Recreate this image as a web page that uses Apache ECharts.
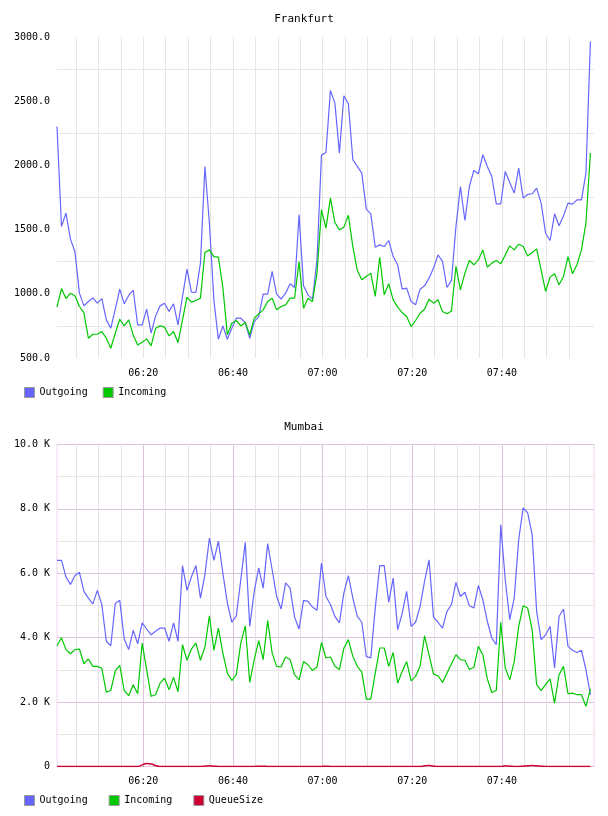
<!DOCTYPE html>
<html>
<head>
<meta charset="utf-8">
<title>Frankfurt / Mumbai</title>
<script src="https://cdn.jsdelivr.net/npm/echarts@6.0.0/dist/echarts.min.js"></script>
<style>
  html, body { margin: 0; padding: 0; background: #fff; }
  #chart { width: 608px; height: 816px; }
</style>
</head>
<body>
<div id="chart"></div>
<script>
// samples are one minute apart, first one at 06:00:45 (minutes since midnight)
const firstSample = 360.75
const sampleStep = 1
const xMin = 360.75
const xMax = 480.55
const timeLabels = ['06:20', '06:40', '07:00', '07:20', '07:40']

// Frankfurt
const fraOutgoing = [
  2303, 1524, 1628, 1426, 1329, 1005, 906, 940, 968, 927,
  963, 797, 732, 880, 1036, 922, 987, 1028, 758, 758,
  880, 693, 828, 906, 927, 862, 922, 758, 979, 1192,
  1013, 1010, 1239, 1992, 1550, 950, 646, 750, 646, 732,
  810, 810, 776, 654, 784, 823, 997, 997, 1174, 997,
  958, 1005, 1078, 1049, 1615, 1062, 992, 958, 1264, 2080,
  2101, 2584, 2485, 2096, 2542, 2480, 2044, 1992, 1940, 1659,
  1623, 1363, 1381, 1368, 1415, 1290, 1226, 1036, 1044, 940,
  914, 1036, 1062, 1122, 1200, 1303, 1252, 1049, 1104, 1524,
  1836, 1571, 1836, 1960, 1935, 2083, 1992, 1914, 1701, 1701,
  1953, 1867, 1784, 1979, 1745, 1774, 1779, 1823, 1706, 1472,
  1415, 1623, 1530, 1607, 1706, 1698, 1732, 1732, 1940, 2965,
]
const fraIncoming = [
  896, 1041, 963, 1005, 984, 901, 854, 654, 685, 685,
  706, 654, 576, 693, 802, 750, 797, 680, 602, 623,
  649, 594, 732, 750, 740, 672, 706, 620, 797, 974,
  935, 948, 966, 1322, 1342, 1290, 1285, 1050, 680, 771,
  792, 750, 776, 680, 810, 844, 875, 940, 966, 875,
  901, 914, 966, 966, 1252, 888, 966, 940, 1161, 1654,
  1511, 1745, 1555, 1498, 1519, 1612, 1368, 1181, 1109, 1135,
  1161, 979, 1285, 992, 1078, 953, 896, 854, 823, 745,
  792, 849, 880, 958, 927, 953, 862, 844, 867, 1213,
  1031, 1161, 1259, 1226, 1264, 1342, 1207, 1239, 1259, 1233,
  1303, 1373, 1342, 1386, 1368, 1295, 1322, 1350, 1187, 1018,
  1130, 1156, 1070, 1135, 1290, 1156, 1226, 1342, 1550, 2096,
]

// Mumbai
const bomOutgoing = [
  6400, 6400, 5890, 5650, 5930, 6030, 5440, 5230, 5050, 5470,
  5030, 3890, 3750, 5060, 5160, 3960, 3630, 4230, 3810, 4460,
  4270, 4090, 4200, 4300, 4300, 3890, 4460, 3890, 6240, 5470,
  5890, 6240, 5230, 5960, 7090, 6400, 7000, 6010, 5080, 4480,
  4680, 5800, 6960, 4350, 5440, 6170, 5540, 6920, 6110, 5280,
  4890, 5700, 5540, 4640, 4270, 5160, 5130, 4950, 4850, 6320,
  5280, 5030, 4660, 4460, 5390, 5930, 5230, 4660, 4480, 3420,
  3370, 4920, 6240, 6240, 5100, 5850, 4250, 4750, 5440, 4350,
  4480, 4970, 5750, 6420, 4640, 4480, 4300, 4820, 5030, 5720,
  5280, 5410, 4990, 4920, 5620, 5180, 4510, 3990, 3780, 7510,
  5800, 4560, 5230, 7050, 8030, 7880, 7200, 4820, 3940, 4090,
  4350, 3060, 4660, 4890, 3730, 3610, 3540, 3610, 3010, 2230,
]
const bomIncoming = [
  3750, 4000, 3630, 3500, 3630, 3650, 3190, 3340, 3110, 3110,
  3050, 2310, 2360, 2970, 3140, 2360, 2200, 2540, 2260, 3830,
  3010, 2180, 2230, 2590, 2740, 2380, 2770, 2320, 3780, 3300,
  3650, 3830, 3300, 3710, 4680, 3610, 4300, 3520, 2900, 2670,
  2850, 3830, 4370, 2610, 3320, 3910, 3320, 4530, 3520, 3110,
  3090, 3400, 3320, 2850, 2690, 3260, 3160, 2980, 3090, 3850,
  3370, 3400, 3110, 3010, 3680, 3940, 3420, 3110, 2930, 2090,
  2090, 2900, 3680, 3680, 3110, 3540, 2590, 2950, 3260, 2660,
  2800, 3110, 4060, 3470, 2870, 2820, 2610, 2900, 3190, 3470,
  3320, 3300, 3010, 3080, 3730, 3470, 2720, 2300, 2360, 4480,
  3060, 2690, 3260, 4350, 4990, 4920, 4250, 2540, 2360, 2540,
  2720, 1970, 2850, 3110, 2260, 2280, 2230, 2230, 1870, 2400,
]
const bomQueueSize = [
  0, 0, 0, 0, 0, 0, 0, 0, 0, 0,
  0, 0, 0, 0, 0, 0, 0, 0, 0, 50,
  90, 80, 30, 0, 0, 0, 0, 0, 0, 0,
  0, 0, 0, 10, 20, 10, 0, 0, 0, 0,
  0, 0, 0, 0, 0, 10, 10, 0, 0, 0,
  0, 0, 0, 0, 0, 0, 0, 0, 0, 0,
  10, 0, 0, 0, 0, 0, 0, 0, 0, 0,
  0, 0, 0, 0, 0, 0, 0, 0, 0, 0,
  0, 0, 20, 30, 10, 0, 0, 0, 0, 0,
  0, 0, 0, 0, 0, 0, 0, 0, 0, 0,
  20, 10, 0, 0, 10, 20, 30, 20, 10, 0,
  0, 0, 0, 0, 0, 0, 0, 0, 0, 0,
]

const colors = { out: '#6666ff', inc: '#00c800', queue: '#cc0033' }
const font = 'DejaVu Sans Mono'
const none = 'rgba(0,0,0,0)'

function withTimes(values) {
  return values.map((v, i) => [firstSample + i * sampleStep, v])
}

function fmtTime(v) {
  const h = Math.floor(v / 60)
  const m = Math.round(v % 60)
  const s = String(h).padStart(2, '0') + ':' + String(m).padStart(2, '0')
  return timeLabels.includes(s) && Math.abs(v - Math.round(v)) < 1e-6 ? s : ''
}

// one colour per drawn split line; the last one (08:00) stays hidden
function lineColors(count, color) {
  return Array(count - 1).fill(color).concat([none])
}

function xAxisBase(gridIndex) {
  return {
    type: 'value',
    gridIndex,
    min: xMin,
    max: xMax,
    axisLine: { show: false },
    axisTick: { show: false },
  }
}

const titleStyle = { fontFamily: font, fontSize: 11, fontWeight: 'normal', color: '#000' }
const legendBase = {
  left: 24,
  padding: 0,
  icon: 'rect',
  itemWidth: 10,
  itemHeight: 10,
  selectedMode: false,
  itemStyle: { borderColor: '#999', borderWidth: 1 },
  textStyle: { fontFamily: font, fontSize: 10, color: '#000' },
}

const chart = echarts.init(document.getElementById('chart'))
const option = {
  animation: false,
  textStyle: { fontFamily: font },
  title: [
    { text: 'Frankfurt', left: 'center', top: 14, padding: 0, textStyle: titleStyle },
    { text: 'Mumbai', left: 'center', top: 422, padding: 0, textStyle: titleStyle },
  ],
  legend: [
    { ...legendBase, data: ['Outgoing', 'Incoming'], top: 387, itemGap: 15 },
    { ...legendBase, data: ['Outgoing', 'Incoming', 'QueueSize'], top: 795, itemGap: 21 },
  ],
  grid: [
    { left: 57, top: 37, width: 537, height: 321 },
    {
      left: 57, top: 444.5, width: 537, height: 322,
      show: true, borderColor: '#ecd6ec', borderWidth: 1,
    },
  ],
  xAxis: [
    {
      ...xAxisBase(0),
      minInterval: 5, maxInterval: 5,
      axisLabel: { margin: 10, fontSize: 10, color: '#000', fontFamily: font, formatter: fmtTime },
      splitLine: {
        show: true, showMinLine: false, showMaxLine: false,
        lineStyle: { color: lineColors(24, '#e6e6e6') },
      },
    },
    {
      ...xAxisBase(1),
      minInterval: 5, maxInterval: 5,
      axisLabel: { margin: 10, fontSize: 10, color: '#000', fontFamily: font, formatter: fmtTime },
      splitLine: {
        show: true, showMinLine: false, showMaxLine: false,
        lineStyle: { color: lineColors(24, '#e4e0e4') },
      },
    },
    {
      ...xAxisBase(1),
      minInterval: 20, maxInterval: 20,
      axisLabel: { show: false },
      splitLine: {
        show: true, showMinLine: false, showMaxLine: false,
        lineStyle: { color: lineColors(6, '#dcc3dc') },
      },
    },
  ],
  yAxis: [
    {
      type: 'value',
      gridIndex: 0,
      min: 500,
      max: 3000,
      interval: 250,
      axisLine: { show: false },
      axisTick: { show: false },
      axisLabel: {
        margin: 7, fontSize: 10, color: '#000', fontFamily: font,
        formatter: (v) => (v % 500 === 0 ? v.toFixed(1) : ''),
      },
      splitLine: { lineStyle: { color: [none, '#e6e6e6'] } },
    },
    {
      type: 'value',
      gridIndex: 1,
      min: 0,
      max: 10000,
      interval: 1000,
      axisLine: { show: false },
      axisTick: { show: false },
      axisLabel: {
        margin: 7, fontSize: 10, color: '#000', fontFamily: font,
        formatter: (v) => (v === 0 ? '0' : v % 2000 === 0 ? (v / 1000).toFixed(1) + ' K' : ''),
      },
      splitLine: { lineStyle: { color: ['#dcc3dc', '#e6e6e6'] } },
    },
  ],
  series: [
    {
      name: 'Outgoing', type: 'line', xAxisIndex: 0, yAxisIndex: 0,
      data: withTimes(fraOutgoing), showSymbol: false, color: colors.out,
      lineStyle: { width: 1.2 }, emphasis: { disabled: true },
    },
    {
      name: 'Incoming', type: 'line', xAxisIndex: 0, yAxisIndex: 0,
      data: withTimes(fraIncoming), showSymbol: false, color: colors.inc,
      lineStyle: { width: 1.2 }, emphasis: { disabled: true },
    },
    {
      name: 'Outgoing', type: 'line', xAxisIndex: 1, yAxisIndex: 1,
      data: withTimes(bomOutgoing), showSymbol: false, color: colors.out,
      lineStyle: { width: 1.2 }, emphasis: { disabled: true },
    },
    {
      name: 'Incoming', type: 'line', xAxisIndex: 1, yAxisIndex: 1,
      data: withTimes(bomIncoming), showSymbol: false, color: colors.inc,
      lineStyle: { width: 1.2 }, emphasis: { disabled: true },
    },
    {
      name: 'QueueSize', type: 'line', xAxisIndex: 1, yAxisIndex: 1, smooth: true,
      data: withTimes(bomQueueSize), showSymbol: false, color: colors.queue,
      lineStyle: { width: 1.5 }, emphasis: { disabled: true },
    },
  ],
}
chart.setOption(option)
</script>
</body>
</html>
